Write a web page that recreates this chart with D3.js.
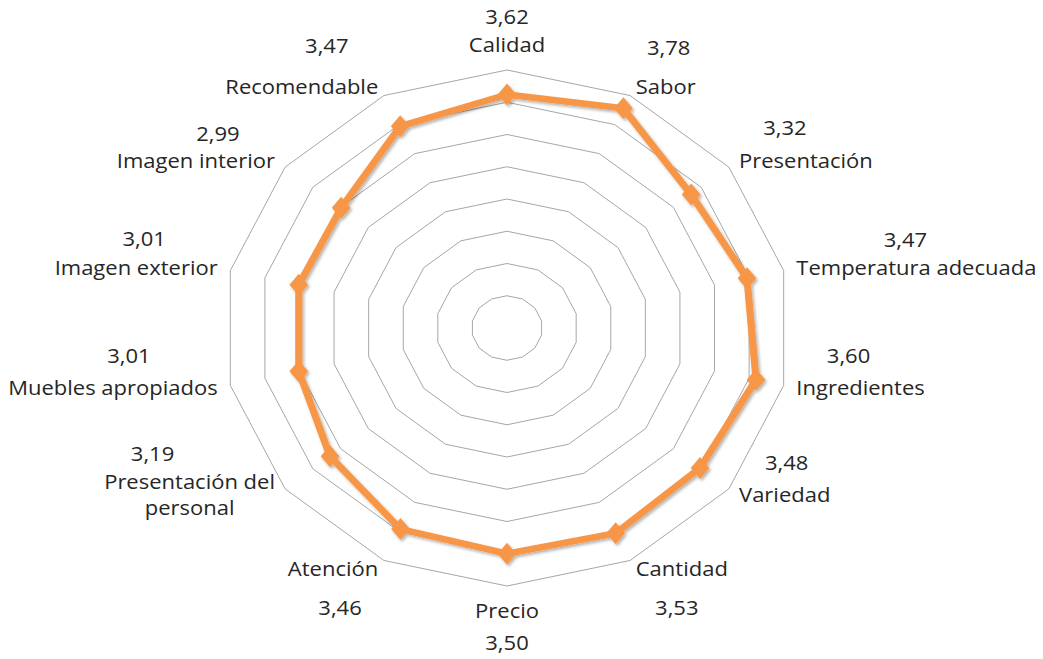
<!DOCTYPE html>
<html>
<head>
<meta charset="utf-8">
<script src="https://cdn.jsdelivr.net/npm/d3@7"></script>
<style>
  html, body { margin: 0; padding: 0; background: #ffffff; }
  svg { display: block; }
  text { font-family: "Open Sans", "DejaVu Sans", sans-serif; font-size: 20px; fill: #262626; }
</style>
</head>
<body>
<svg id="chart" width="1043" height="659"></svg>
<script>
// Survey averages per attribute (scale 0–4)
const categories = [
  "Calidad", "Sabor", "Presentación", "Temperatura adecuada", "Ingredientes",
  "Variedad", "Cantidad", "Precio", "Atención", "Presentación del personal",
  "Muebles apropiados", "Imagen exterior", "Imagen interior", "Recomendable"
];
const scores = [3.62, 3.78, 3.32, 3.47, 3.60, 3.48, 3.53, 3.50, 3.46, 3.19, 3.01, 3.01, 2.99, 3.47];
const gridLevels = [0.5, 1, 1.5, 2, 2.5, 3, 3.5, 4];

// Hand placement of the value labels relative to each category label's centre (px)
const valueLabelOffset = [
  [0, -28], [3, -39], [-21, -33], [-11, -28], [-12, -32], [2, -32], [-5, 39],
  [0, 32], [7, 39], [-37, -28], [16, -32], [8, -29], [22, -27], [25, -41]
];

const cx = 507, cy = 328, radius = 258, stretchX = 1.1;
const lineHeight = 26;
const orange = "#F79646";

const fmt = d3.formatLocale({ decimal: ",", thousands: ".", grouping: [3], currency: ["", "€"] }).format(".2f");

const n = categories.length;
const angle = d3.scaleLinear().domain([0, n]).range([0, 2 * Math.PI]);
const r = d3.scaleLinear().domain([0, 4]).range([0, radius]);

const svg = d3.select("#chart");

const defs = svg.append("defs");
const f = defs.append("filter").attr("id", "shadow")
  .attr("x", "-10%").attr("y", "-10%").attr("width", "120%").attr("height", "120%");
f.append("feDropShadow").attr("dx", 1.5).attr("dy", 2).attr("stdDeviation", 1.4)
  .attr("flood-color", "#000").attr("flood-opacity", 0.3);

// The plot is drawn slightly wider than tall
const g = svg.append("g").attr("transform", `translate(${cx},${cy}) scale(${stretchX},1)`);

// Concentric polygon gridlines
const ringLine = level => d3.lineRadial()
  .angle((d, i) => angle(i))
  .radius(() => r(level))
  .curve(d3.curveLinearClosed)(categories);

g.append("g").selectAll("path").data(gridLevels).join("path")
  .attr("d", d => ringLine(d))
  .attr("fill", "none")
  .attr("stroke", "#a6a6a6")
  .attr("stroke-width", 1)
  .attr("vector-effect", "non-scaling-stroke");

// Series line and markers
const series = g.append("g").attr("filter", "url(#shadow)");
const seriesLine = d3.lineRadial()
  .angle((d, i) => angle(i))
  .radius(d => r(d))
  .curve(d3.curveLinearClosed);

series.append("path")
  .attr("d", seriesLine(scores))
  .attr("fill", "none")
  .attr("stroke", orange)
  .attr("stroke-width", 6.5)
  .attr("stroke-linejoin", "miter");

const mw = 8.5, mh = 11;
const diamond = `M0,${-mh}L${mw},0L0,${mh}L${-mw},0Z`;
series.selectAll(".marker").data(scores).join("path")
  .attr("class", "marker")
  .attr("d", diamond)
  .attr("fill", orange)
  .attr("transform", (d, i) => {
    const [x, y] = d3.pointRadial(angle(i), r(d));
    return `translate(${x},${y})`;
  });

// Category labels and value labels
const wrap = name => {
  if (name.length <= 22) return [name];
  const k = name.lastIndexOf(" ");
  return [name.slice(0, k), name.slice(k + 1)];
};

const labels = g.append("g");
categories.forEach((name, i) => {
  const a = angle(i);
  const s = Math.sin(a), c = Math.cos(a);
  const [vx, vy] = d3.pointRadial(a, radius);
  const side = Math.abs(s) < 0.1 ? 0 : (s > 0 ? 1 : -1);
  const lx = vx + 11.8 * s;
  const ly = vy - c * (side === 0 ? 25 : 10);
  const lines = wrap(name);

  const t = labels.append("text");
  let centerX, firstY;
  if (lines.length === 1) {
    t.attr("x", lx).attr("y", ly).attr("dy", "0.35em")
      .attr("text-anchor", side === 0 ? "middle" : side > 0 ? "start" : "end")
      .text(name);
    const w = t.node().getComputedTextLength();
    centerX = side === 0 ? lx : lx + side * w / 2;
    firstY = ly;
  } else {
    const spans = lines.map((line, k) => t.append("tspan")
      .attr("y", ly + (k - (lines.length - 1) / 2) * lineHeight)
      .attr("dy", "0.35em")
      .text(line));
    const maxW = d3.max(spans, sp => sp.node().getComputedTextLength());
    centerX = side === 0 ? lx : lx + side * maxW / 2;
    spans.forEach(sp => sp.attr("x", centerX));
    t.attr("text-anchor", "middle");
    firstY = ly - (lines.length - 1) / 2 * lineHeight;
  }

  const [ox, oy] = valueLabelOffset[i];
  labels.append("text")
    .attr("x", centerX + ox / stretchX)
    .attr("y", firstY + oy)
    .attr("dy", "0.35em")
    .attr("text-anchor", "middle")
    .text(fmt(scores[i]));
});
</script>
</body>
</html>
